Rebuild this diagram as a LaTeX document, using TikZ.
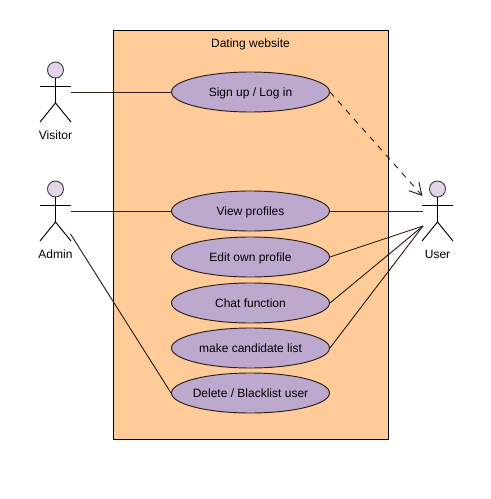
\documentclass[tikz,border=0pt]{standalone}
\usepackage{fontspec}
\setmainfont{Liberation Sans}
\usetikzlibrary{shapes.geometric, arrows.meta}
\definecolor{sysfill}{HTML}{FFCC99}
\definecolor{casefill}{HTML}{BDA8CE}
\definecolor{headfill}{HTML}{E1D5E7}
\definecolor{inkline}{HTML}{2A1E16}
\begin{document}
\begin{tikzpicture}[x=0.75pt,y=-0.75pt,line width=0.7pt,font=\fontsize{9}{11}\selectfont,
usecase/.style={ellipse, draw=inkline, fill=casefill, minimum width=118.5pt, minimum height=30pt, inner xsep=-30pt, inner ysep=-5pt, text height=7.2pt, text depth=0pt},
head/.style={circle, draw=black!75, fill=headfill, minimum size=12pt, inner sep=0pt},
limb/.style={draw=black},
link/.style={draw=inkline}]
\useasboundingbox (0,0) rectangle (490,499);
\node[draw=black, fill=sysfill, minimum width=206.25pt, minimum height=306.75pt, inner sep=0pt, anchor=north west] (system) at (112.5,30) {};
\node[yshift=-10.5pt] (title) at (system.north) {Dating website};

\node[usecase] (signup) at (250.5,92) {Sign up / Log in};
\node[usecase] (view) at (250.5,211) {View profiles};
\node[usecase] (edit) at (250.5,257) {Edit own profile};
\node[usecase] (chat) at (250.5,303) {Chat function};
\node[usecase] (list) at (250.5,348) {make candidate list};
\node[usecase] (delete) at (250.5,393) {Delete / Blacklist user};

% stick figures
\foreach \who/\cx/\cy/\txt in {visitor/55.5/70/Visitor, admin/55.5/189/Admin, user/437.5/189/User}{
	\node[head] (\who head) at (\cx,\cy) {};
	\coordinate (\who hip) at (\cx,\cy+33);
	\coordinate (\who armL) at (\cx-15.5,\cy+16);
	\coordinate (\who armR) at (\cx+15.5,\cy+16);
	\coordinate (\who legL) at (\cx-15.5,\cy+52);
	\coordinate (\who legR) at (\cx+15.5,\cy+52);
	\node (\who label) at (\cx,\cy+65.5) {\txt};
	\draw[limb] (\who head.south) -- (\who hip);
	\draw[limb] (\who armL) -- (\who armR);
	\draw[limb] (\who legL) -- (\who hip) -- (\who legR);
}

\coordinate (visitorport) at (70.5,92);
\coordinate (adminport) at (70.5,211);
\coordinate (adminfoot) at (70.5,234);
\coordinate (usertop) at (422.5,196);
\coordinate (userport) at (423,211);
\coordinate (userfoot) at (423,226);

\draw[link] (visitorport) -- (signup.west);
\draw[link] (adminport) -- (view.west);
\draw[link] (adminfoot) -- (delete.west);
\draw[link] (view.east) -- (userport);
\draw[link] (edit.east) -- (userfoot);
\draw[link] (chat.east) -- (userfoot);
\draw[link] (list.east) -- (userfoot);
\draw[link, dashed, dash pattern=on 4.5pt off 4.5pt, -{Straight Barb[length=9pt,width=10pt]}] (signup.east) -- (usertop);
\end{tikzpicture}
\end{document}
